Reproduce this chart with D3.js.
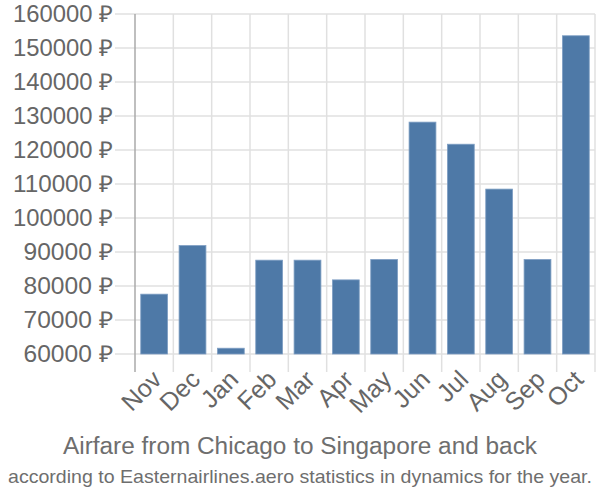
<!DOCTYPE html>
<html><head><meta charset="utf-8">
<script src="https://cdn.jsdelivr.net/npm/d3@7/dist/d3.min.js"></script>
<style>body{margin:0;background:#fff}svg{display:block}text{font-family:"Liberation Sans",Arial,sans-serif}</style>
</head><body>
<svg id="c" width="600" height="500"></svg>
<script>
const months = ["Nov","Dec","Jan","Feb","Mar","Apr","May","Jun","Jul","Aug","Sep","Oct"];
const prices = [77600,91900,61700,87600,87600,81800,87800,128200,121700,108500,87800,153600];
const yTicks = [60000,70000,80000,90000,100000,110000,120000,130000,140000,150000,160000];
const title = "Airfare from Chicago to Singapore and back";
const subtitle = "according to Easternairlines.aero statistics in dynamics for the year.";

const svg = d3.select("#c");
const L = 135, R = 595, T = 14, B = 354;
const x = d3.scaleBand().domain(months).range([L, R]).paddingInner(0.3).paddingOuter(0.15);
const y = d3.scaleLinear().domain([60000,160000]).range([B, T]);

// horizontal grid
svg.append("g").selectAll("line").data(yTicks).join("line")
  .attr("x1", L-20).attr("x2", R).attr("y1", d=>y(d)).attr("y2", d=>y(d))
  .attr("stroke", "#e0e0e0").attr("stroke-width", 1.5);
// vertical grid
const vx = d3.range(months.length+1).map(i => L + i*(R-L)/months.length);
svg.append("g").selectAll("line").data(vx.slice(1)).join("line")
  .attr("x1", d=>d).attr("x2", d=>d).attr("y1", T).attr("y2", B+18)
  .attr("stroke", "#e0e0e0").attr("stroke-width", 1.5);
// y axis line
svg.append("line").attr("x1", L).attr("x2", L).attr("y1", T).attr("y2", B+18)
  .attr("stroke", "#aaa").attr("stroke-width", 1.5);

// bars
svg.append("g").selectAll("rect").data(months).join("rect")
  .attr("x", d=>x(d)).attr("width", x.bandwidth())
  .attr("y", (d,i)=>y(prices[i])).attr("height", (d,i)=>B - y(prices[i]))
  .attr("fill", "#4e79a7").attr("stroke", "#7f9fc4").attr("stroke-width", 0.8);

// y labels
svg.append("g").selectAll("text").data(yTicks).join("text")
  .attr("x", 112.5).attr("y", d=>y(d)).attr("dy", "0.36em")
  .attr("text-anchor", "end").attr("fill", "#666").attr("font-size", 23)
  .attr("textLength", d => String(d).length === 6 ? 99.5 : 89).attr("lengthAdjust", "spacingAndGlyphs")
  .text(d => d + " ₽");

// x labels
svg.append("g").selectAll("text").data(months).join("text")
  .attr("transform", d => `translate(${x(d)+x.bandwidth()/2+9},${B+27}) rotate(-45)`)
  .attr("text-anchor", "end").attr("fill", "#666").attr("font-size", 25)
  .text(d=>d);

svg.append("text").attr("x", 300).attr("y", 454).attr("text-anchor", "middle")
  .attr("fill", "#6e6e6e").attr("font-size", 23)
  .attr("textLength", 474).attr("lengthAdjust", "spacingAndGlyphs").text(title);
svg.append("text").attr("x", 300).attr("y", 483).attr("text-anchor", "middle")
  .attr("fill", "#6e6e6e").attr("font-size", 19)
  .attr("textLength", 584).attr("lengthAdjust", "spacingAndGlyphs").text(subtitle);
</script>
</body></html>
